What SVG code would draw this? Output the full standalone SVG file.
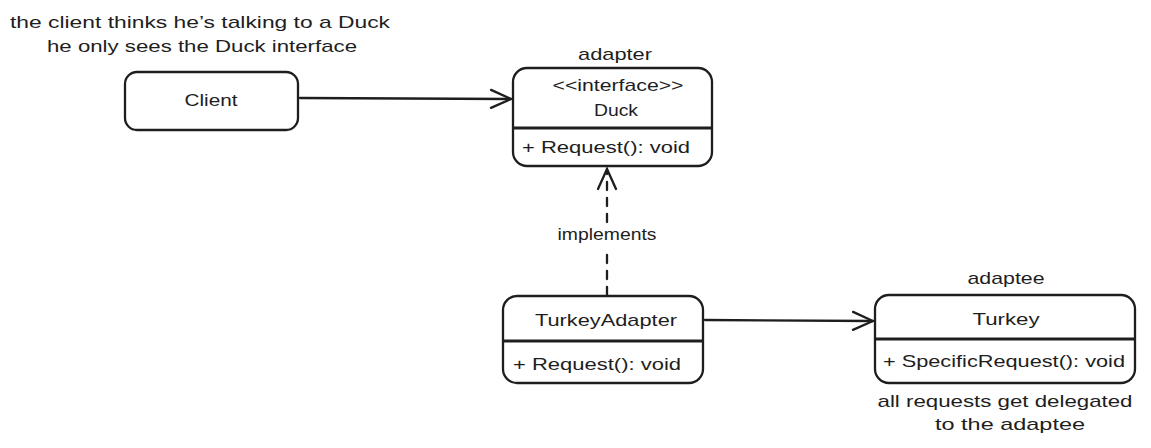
<svg xmlns="http://www.w3.org/2000/svg" width="1151" height="448" viewBox="0 0 1151 448">
<defs>
<style>
.box{fill:#fff;stroke:#1e1e1e;stroke-width:2.3}
.div{stroke:#1e1e1e;stroke-width:2.8}
.t{font-family:"Liberation Sans","DejaVu Sans",sans-serif;font-size:17px;fill:#1e1e1e}
.c{text-anchor:middle}
.edge{fill:none;stroke:#1e1e1e;stroke-width:2.3;stroke-linecap:round}
.dash{stroke-dasharray:8 8}
</style>
<marker id="open" viewBox="0 0 24 24" refX="22" refY="12" markerWidth="24" markerHeight="24" markerUnits="userSpaceOnUse" orient="auto">
<path d="M2,3 L22,12 L2,21" fill="none" stroke="#1e1e1e" stroke-width="2.3" stroke-linecap="round"/>
</marker>
</defs>
<rect width="1151" height="448" fill="#fff"/>
<g id="note-client">
<text class="t c" x="200" y="28" textLength="380" lengthAdjust="spacingAndGlyphs">the client thinks he’s talking to a Duck</text>
<text class="t c" x="202" y="52" textLength="310" lengthAdjust="spacingAndGlyphs">he only sees the Duck interface</text>
</g>
<g id="client">
<rect class="box" x="125" y="72" width="173" height="58" rx="12"/>
<text class="t c" x="211" y="106" textLength="53" lengthAdjust="spacingAndGlyphs">Client</text>
</g>
<g id="duck">
<text class="t c" x="615" y="60" textLength="74" lengthAdjust="spacingAndGlyphs">adapter</text>
<rect class="box" x="513" y="68" width="199" height="98" rx="14"/>
<line class="div" x1="513" y1="128" x2="712" y2="128"/>
<text class="t c" x="618" y="91" textLength="131" lengthAdjust="spacingAndGlyphs">&lt;&lt;interface&gt;&gt;</text>
<text class="t c" x="616" y="116" textLength="44" lengthAdjust="spacingAndGlyphs">Duck</text>
<text class="t" x="522" y="153" textLength="168" lengthAdjust="spacingAndGlyphs">+ Request(): void</text>
</g>
<g id="turkey-adapter">
<rect class="box" x="503" y="296" width="200" height="87" rx="14"/>
<line class="div" x1="503" y1="341" x2="703" y2="341"/>
<text class="t c" x="606" y="326" textLength="142" lengthAdjust="spacingAndGlyphs">TurkeyAdapter</text>
<text class="t" x="513" y="370" textLength="168" lengthAdjust="spacingAndGlyphs">+ Request(): void</text>
</g>
<g id="turkey">
<text class="t c" x="1006" y="284" textLength="77" lengthAdjust="spacingAndGlyphs">adaptee</text>
<rect class="box" x="875" y="295" width="260" height="88" rx="14"/>
<line class="div" x1="875" y1="339" x2="1135" y2="339"/>
<text class="t c" x="1006" y="325" textLength="67" lengthAdjust="spacingAndGlyphs">Turkey</text>
<text class="t" x="883" y="367" textLength="242" lengthAdjust="spacingAndGlyphs">+ SpecificRequest(): void</text>
<text class="t c" x="1005" y="407" textLength="255" lengthAdjust="spacingAndGlyphs">all requests get delegated</text>
<text class="t c" x="1010" y="430" textLength="150" lengthAdjust="spacingAndGlyphs">to the adaptee</text>
</g>
<g id="connectors">
<path class="edge" d="M300,98 L511,99" marker-end="url(#open)"/>
<path class="edge dash" d="M607,295 L607,250"/>
<path class="edge dash" d="M607,222 L607,169" marker-end="url(#open)"/>
<text class="t c" x="607" y="240" textLength="99" lengthAdjust="spacingAndGlyphs">implements</text>
<path class="edge" d="M705,320 L873,321" marker-end="url(#open)"/>
</g>
</svg>
